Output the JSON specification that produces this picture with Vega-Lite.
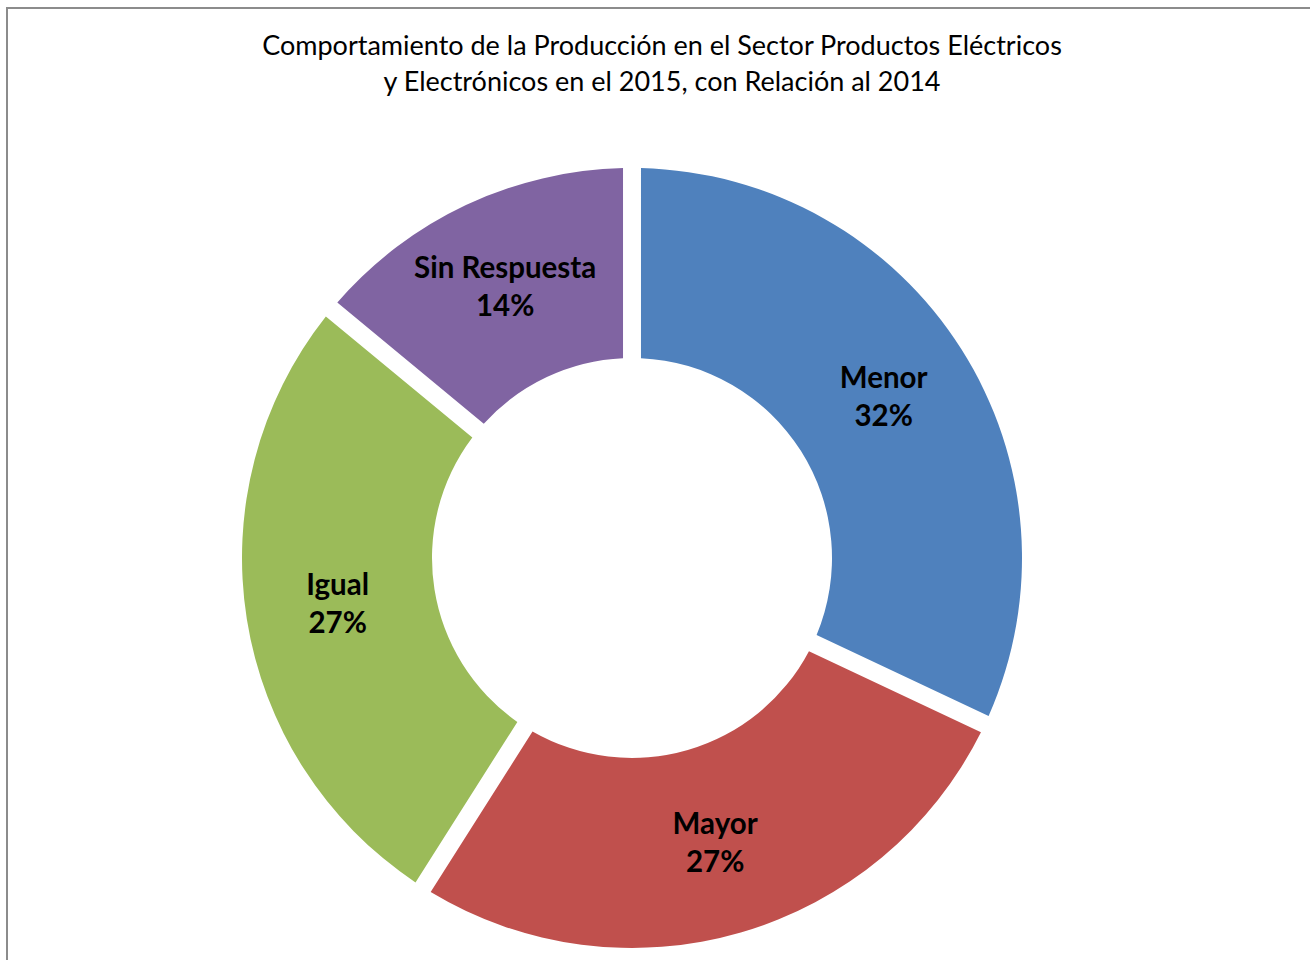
{
  "$schema": "https://vega.github.io/schema/vega-lite/v6.json",
  "width": 1310,
  "height": 1100,
  "autosize": "none",
  "padding": {"left": 7, "top": 8, "right": 0, "bottom": 0},
  "background": "white",
  "view": {"stroke": "#8c8c8c", "strokeWidth": 2},
  "title": {
    "text": ["Comportamiento de la Producción en el Sector Productos Eléctricos", "y Electrónicos en el 2015, con Relación al 2014"],
    "font": "Lato",
    "fontSize": 27,
    "fontWeight": "normal",
    "color": "#000000",
    "lineHeight": 36,
    "offset": -89,
    "anchor": "middle"
  },
  "data": {
    "values": [
      {"categoria": "Menor", "valor": 32, "orden": 1},
      {"categoria": "Mayor", "valor": 27, "orden": 2},
      {"categoria": "Igual", "valor": 27, "orden": 3},
      {"categoria": "Sin Respuesta", "valor": 14, "orden": 4}
    ]
  },
  "transform": [{"calculate": "[datum.categoria, datum.valor + '%']", "as": "etiqueta"}],
  "encoding": {
    "theta": {"field": "valor", "type": "quantitative", "stack": true},
    "order": {"field": "orden", "type": "quantitative"}
  },
  "layer": [
    {
      "mark": {"type": "arc", "innerRadius": 200, "outerRadius": 390, "padAngle": 0.041, "x": {"expr": "width/2 - 30"}},
      "encoding": {
        "color": {
          "field": "categoria",
          "type": "nominal",
          "scale": {"domain": ["Menor", "Mayor", "Igual", "Sin Respuesta"], "range": ["#4F81BD", "#C0504D", "#9BBB59", "#8064A2"]},
          "legend": null
        }
      }
    },
    {
      "mark": {"type": "text", "radius": 298, "font": "Lato", "fontSize": 29.5, "fontWeight": "bold", "lineHeight": 38, "dy": -19, "color": "#000000", "x": {"expr": "width/2 - 30"}},
      "encoding": {"text": {"field": "etiqueta"}}
    }
  ],
  "config": {"view": {"stroke": "#8c8c8c", "strokeWidth": 2}}
}
